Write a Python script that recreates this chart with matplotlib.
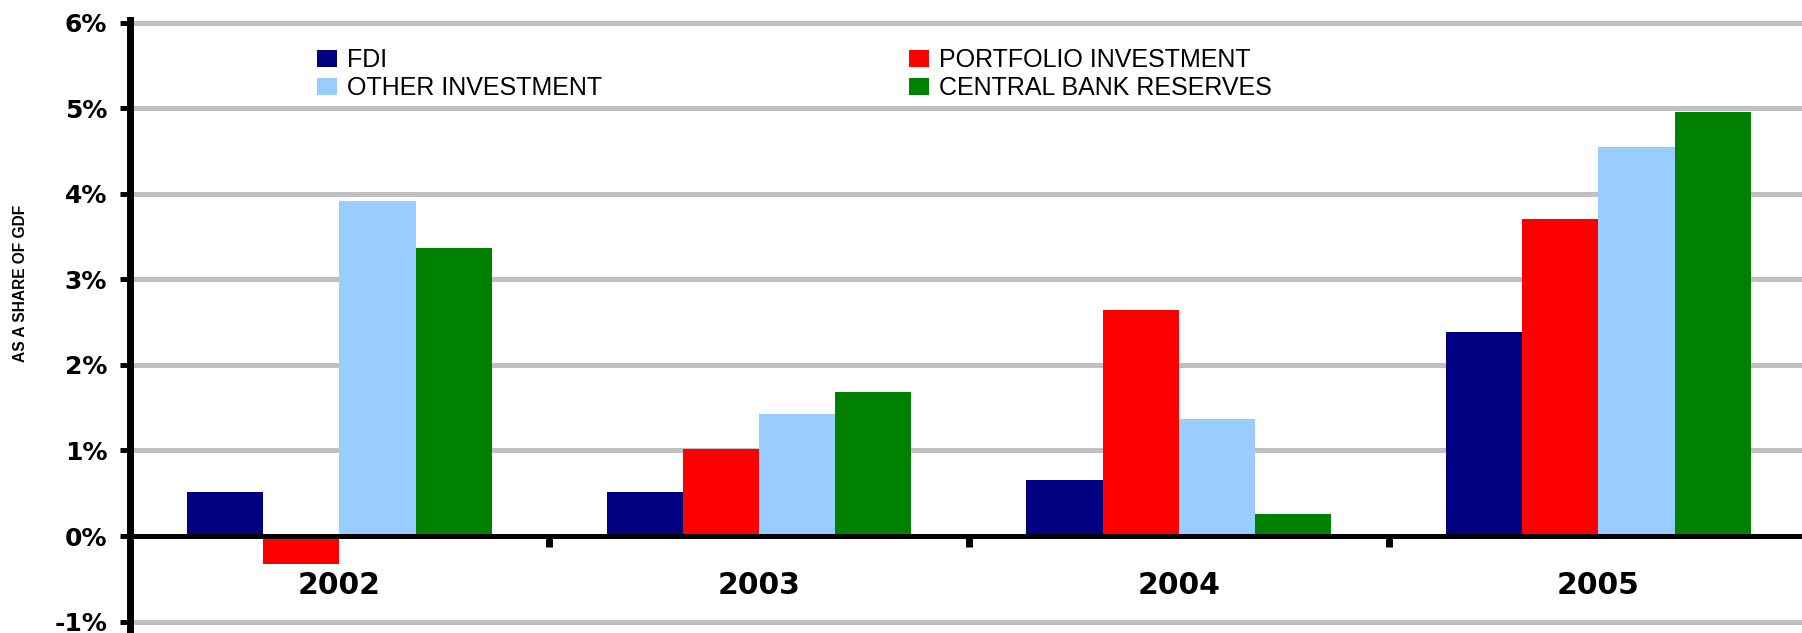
import matplotlib
matplotlib.use("Agg")
import matplotlib.pyplot as plt
from matplotlib import font_manager
import numpy as np

# données (% du PIB)
annees = ["2002", "2003", "2004", "2005"]
fdi = [0.51, 0.51, 0.65, 2.38]
portefeuille = [-0.33, 1.02, 2.64, 3.71]
autres = [3.92, 1.43, 1.37, 4.55]
reserves = [3.36, 1.68, 0.26, 4.95]

series = [fdi, portefeuille, autres, reserves]
noms = ["FDI", "PORTFOLIO INVESTMENT", "OTHER INVESTMENT", "CENTRAL BANK RESERVES"]
couleurs = ["#000080", "#FF0000", "#99CCFF", "#008000"]
graduations = [-1, 0, 1, 2, 3, 4, 5, 6]

W, H = 1802, 633
fig = plt.figure(figsize=(W / 100, H / 100), dpi=100)
ax = fig.add_axes([129.5 / W, 0, 1678.8 / W, 613 / H])

x = np.arange(len(annees))
largeur = 0.1816
barres = []
for i, (vals, nom, c) in enumerate(zip(series, noms, couleurs)):
    b = ax.bar(x + (i - 1.5) * largeur, vals, width=largeur, color=c,
               label=nom, zorder=3, linewidth=0)
    barres.append(b)

ax.set_xlim(-0.5, 3.5)
ax.set_ylim(-1.133, 6.03)

# grille horizontale grise
for g in graduations:
    if g != 0:
        ax.axhline(g, color="#C0C0C0", lw=3.6, zorder=1)

for s in ["top", "right"]:
    ax.spines[s].set_visible(False)
ax.spines["left"].set_linewidth(5)
ax.spines["left"].set_zorder(5)
ax.spines["bottom"].set_position(("data", 0))
ax.spines["bottom"].set_linewidth(3.6)
ax.spines["bottom"].set_zorder(5)

ax.set_yticks(graduations)
ax.set_yticklabels([f"{g}%" for g in graduations])
ax.tick_params(axis="y", direction="out", length=7.5, width=3.6, pad=8.6,
               labelsize=18)
for t in ax.get_yticklabels():
    t.set_fontweight("bold")
    t.set_family("DejaVu Sans")

# traits entre les années, libellés au centre
ax.set_xticks([0.5, 1.5, 2.5])
ax.set_xticklabels([])
ax.tick_params(axis="x", which="major", direction="out", length=8, width=5)
ax.set_xticks(x, minor=True)
ax.set_xticklabels(annees, minor=True)
ax.tick_params(axis="x", which="minor", length=0, pad=25, labelsize=21.5)
for t in ax.get_xticklabels(minor=True):
    t.set_fontweight("bold")
    t.set_family("DejaVu Sans")

# titre vertical (police étroite si disponible)
police_titre, taille_titre = "Liberation Sans", 11.2
for nom_police, taille in [("Liberation Sans Narrow", 13.5), ("DejaVu Sans Condensed", 11)]:
    try:
        font_manager.findfont(nom_police, fallback_to_default=False)
        police_titre, taille_titre = nom_police, taille
        break
    except ValueError:
        pass
fig.text(21 / W, 1 - 283 / H, "AS A SHARE OF GDF", rotation=90,
         ha="center", va="center", fontsize=taille_titre,
         fontweight="bold", family=police_titre)

# légende sur deux colonnes
leg_kw = dict(frameon=False, handlelength=0.8, handleheight=0.68,
              handletextpad=0.4, labelspacing=0.15, borderpad=0,
              borderaxespad=0, loc="center left",
              prop={"family": "Liberation Sans", "size": 18})
l1 = fig.legend([barres[0], barres[2]], [noms[0], noms[2]],
                bbox_to_anchor=(317 / W, 1 - 74.25 / H), **leg_kw)
l2 = fig.legend([barres[1], barres[3]], [noms[1], noms[3]],
                bbox_to_anchor=(909 / W, 1 - 74.25 / H), **leg_kw)

fig.savefig("out.png", dpi=100)
